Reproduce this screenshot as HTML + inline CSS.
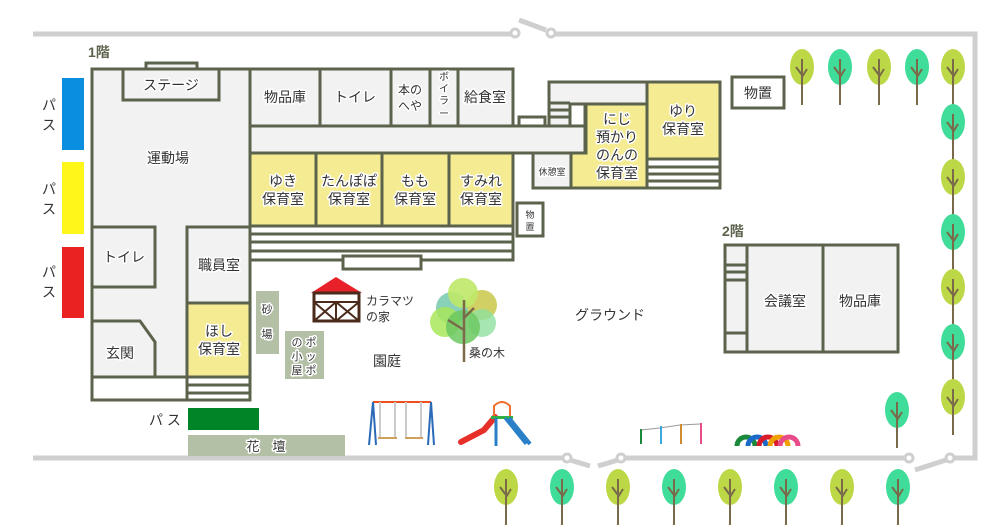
<!DOCTYPE html>
<html><head><meta charset="utf-8"><style>
html,body{margin:0;padding:0;background:#fff;width:1000px;height:530px;overflow:hidden}
svg text{font-family:"Liberation Sans","Noto Sans CJK JP",sans-serif;fill:#333;paint-order:stroke;stroke:#fff;stroke-width:3px;stroke-linejoin:round}
</style></head><body>
<svg width="1000" height="530" viewBox="0 0 1000 530" xmlns="http://www.w3.org/2000/svg">
<defs>
<g id="treeG"><ellipse cx="0" cy="0" rx="12" ry="18" fill="#bcd846"/><path d="M0,-8 V38 M0,8 L-6,0 M0,10 L5,2" stroke="#7a6a4a" stroke-width="2" fill="none"/></g>
<g id="treeT"><ellipse cx="0" cy="0" rx="12" ry="18" fill="#3fdc9a"/><path d="M0,-8 V38 M0,8 L-6,0 M0,10 L5,2" stroke="#7a6a4a" stroke-width="2" fill="none"/></g>
</defs>
<!-- fence -->
<g stroke="#cfcfcf" stroke-width="5" fill="none">
<path d="M33,34 H511"/><path d="M519,20 L546,30"/><path d="M555,34 H975 V458 H954"/>
<path d="M33,458 H563"/><path d="M570,460 L590,466"/><path d="M598,466 L618,460"/><path d="M625,458 H905"/><path d="M915,470 L946,460"/>
</g>
<g fill="#fff" stroke="#cfcfcf" stroke-width="3">
<circle cx="515" cy="33" r="4"/><circle cx="551" cy="33" r="4"/><circle cx="567" cy="458" r="4"/><circle cx="621" cy="458" r="4"/><circle cx="909" cy="458" r="4"/><circle cx="950" cy="458" r="4"/>
</g>
<!-- buses -->
<rect x="62" y="78" width="22" height="72" fill="#0a8fe0"/>
<rect x="62" y="162" width="22" height="72" fill="#fff71a"/>
<rect x="62" y="247" width="22" height="71" fill="#ea2222"/>
<g font-size="14"><text x="42" y="110">パ</text><text x="42" y="130">ス</text><text x="42" y="194">パ</text><text x="42" y="214">ス</text><text x="42" y="277">パ</text><text x="42" y="297">ス</text></g>
<text x="88" y="57" font-size="14" font-weight="bold" style="fill:#5c634c">1階</text>
<text x="722" y="236" font-size="14" font-weight="bold" style="fill:#5c634c">2階</text>
<!-- building 1 -->
<g stroke="#5c634c" stroke-width="3" fill="#f2f2f2">
<rect x="146" y="63" width="51" height="6"/>
<path d="M92,69 H513 V126 H250 V400 H92 Z"/>
<rect x="123" y="69" width="96" height="31"/>
<rect x="250" y="69" width="70" height="57"/><rect x="320" y="69" width="71" height="57"/><rect x="391" y="69" width="39" height="57"/><rect x="430" y="69" width="28" height="57"/><rect x="458" y="69" width="55" height="57"/>
<rect x="250" y="126" width="335" height="27"/>
<rect x="519" y="117" width="26" height="9" fill="#fff"/>
<g fill="#f4eb93"><rect x="250" y="153" width="66" height="73"/><rect x="316" y="153" width="66" height="73"/><rect x="382" y="153" width="67" height="73"/><rect x="449" y="153" width="64" height="73"/></g>
<rect x="250" y="226" width="263" height="34" fill="#fff"/>
<path d="M250,234 H513 M250,242 H513 M250,251 H513" fill="none"/>
<rect x="343" y="256" width="78" height="13" fill="#fff"/>
<rect x="92" y="227" width="63" height="60"/>
<rect x="187" y="227" width="63" height="76"/>
<rect x="187" y="303" width="63" height="74" fill="#f4eb93"/>
<path d="M92,321 H140 L155,342 V377 H92 Z"/>
<rect x="92" y="377" width="158" height="23" fill="#fff"/>
<path d="M187,377 V400 M187,385 H250 M187,393 H250" fill="none"/>
<!-- right building -->
<path d="M549,82 H720 V188 H533 V153 H585 V104 H570 V126 H549 Z" fill="#f2f2f2"/>
<path d="M549,103 H570 M549,110 H570 M549,117 H570" fill="none"/>
<path d="M586,104 H647 V188 H571 V153 H586 Z" fill="#f4eb93"/>
<rect x="533" y="153" width="38" height="35"/>
<rect x="647" y="82" width="73" height="77" fill="#f4eb93"/>
<rect x="647" y="159" width="73" height="29" fill="#fff"/>
<path d="M647,167 H720 M647,174 H720 M647,181 H720" fill="none"/>
<rect x="517" y="203" width="26" height="33" fill="#fff"/>
<rect x="732" y="77" width="52" height="31" fill="#fff"/>
<!-- 2F -->
<rect x="725" y="245" width="173" height="107"/>
<path d="M747,245 V352 M823,245 V352 M725,265 H747 M725,272 H747 M725,280 H747 M725,333 H747" fill="none"/>
</g>
<!-- labels -->
<g font-size="14" text-anchor="middle">
<text x="171" y="90">ステージ</text>
<text x="285" y="102">物品庫</text><text x="355" y="102">トイレ</text>
<text x="410" y="94" font-size="12">本の</text><text x="410" y="110" font-size="12">へや</text>
<text x="485" y="102">給食室</text>
<text x="168" y="163">運動場</text>
<text x="283" y="186">ゆき</text><text x="283" y="204">保育室</text>
<text x="349" y="186">たんぽぽ</text><text x="349" y="204">保育室</text>
<text x="415" y="186">もも</text><text x="415" y="204">保育室</text>
<text x="481" y="186">すみれ</text><text x="481" y="204">保育室</text>
<text x="124" y="262">トイレ</text><text x="219" y="270">職員室</text>
<text x="219" y="336">ほし</text><text x="219" y="354">保育室</text>
<text x="120" y="358">玄関</text>
<text x="683" y="116">ゆり</text><text x="683" y="134">保育室</text>
<text x="617" y="124">にじ</text><text x="617" y="142">預かり</text><text x="617" y="160">のんの</text><text x="617" y="178">保育室</text>
<text x="758" y="98">物置</text>
<text x="785" y="306">会議室</text><text x="860" y="306">物品庫</text>
<text x="610" y="320">グラウンド</text>
<text x="387" y="366">園庭</text>
</g>
<g font-size="9" text-anchor="middle"><text x="552" y="175">休憩室</text><text x="530" y="218">物</text><text x="530" y="230">置</text>
<text x="444" y="80" font-size="10">ボ</text><text x="444" y="92" font-size="10">イ</text><text x="444" y="104" font-size="10">ラ</text><text x="444" y="117" font-size="10">ー</text></g>
<!-- yards -->
<rect x="256" y="291" width="23" height="63" fill="#b3c0a5"/>
<g font-size="11" text-anchor="middle"><text x="267" y="313">砂</text><text x="267" y="338">場</text></g>
<rect x="285" y="331" width="39" height="48" fill="#b3c0a5"/>
<g font-size="11" text-anchor="middle"><text x="311" y="346">ポ</text><text x="311" y="360">ッ</text><text x="311" y="374">ポ</text><text x="297" y="346">の</text><text x="297" y="360">小</text><text x="297" y="374">屋</text></g>
<rect x="188" y="408" width="71" height="22" fill="#008428"/>
<text x="165" y="425" font-size="14" text-anchor="middle">パ ス</text>
<rect x="188" y="435" width="157" height="21" fill="#b3c0a5"/>
<text x="266" y="451" font-size="13" text-anchor="middle">花　壇</text>
<!-- karamatsu house -->
<polygon points="336,277 311,293 362,293" fill="#e8202a"/>
<rect x="314" y="293" width="45" height="28" fill="#fff" stroke="#4a2a1a" stroke-width="3"/>
<path d="M314,302 H359 M336,302 V321 M314,302 L336,321 M336,302 L314,321 M336,302 L359,321 M359,302 L336,321" stroke="#4a2a1a" stroke-width="2"/>
<text x="366" y="305" font-size="12">カラマツ</text><text x="366" y="321" font-size="12">の家</text>
<!-- mulberry -->
<circle cx="452" cy="308" r="16" fill="#6cc7a8" opacity=".8"/><circle cx="482" cy="305" r="15" fill="#c8c84a" opacity=".85"/>
<circle cx="463" cy="293" r="15" fill="#bfe868" opacity=".9"/><circle cx="445" cy="322" r="15" fill="#a8e65a" opacity=".85"/>
<circle cx="482" cy="323" r="14" fill="#8ee0a0" opacity=".8"/><circle cx="463" cy="327" r="17" fill="#6cc860" opacity=".85"/>
<path d="M464,300 V362 M464,330 L448,320 M464,318 L474,308" stroke="#7a6a4a" stroke-width="2.5" fill="none"/>
<text x="469" y="357" font-size="12">桑の木</text>
<!-- swing -->
<g stroke-width="2" fill="none">
<path d="M373,402 H431" stroke="#f05020"/>
<path d="M373,402 L369,445 M373,402 L376,445 M431,402 L428,445 M431,402 L434,445" stroke="#2a6ab8"/>
<path d="M380,402 V437 M395,402 V437 M406,402 V437 M421,402 V437" stroke="#ccc"/>
<path d="M378,438 H397 M405,438 H423" stroke="#d0a060" stroke-width="2"/>
</g>
<!-- slide -->
<path d="M461,442 L484,430 L495,417" stroke="#e8302a" stroke-width="6" fill="none" stroke-linecap="round"/>
<path d="M494,418 V406 Q502,398 510,406 V418" stroke="#f07030" stroke-width="2" fill="none"/>
<rect x="491" y="416" width="22" height="3" fill="#30b040"/>
<path d="M496,418 V446 M505,418 L526,444" stroke="#2a80c8" stroke-width="3" fill="none"/>
<path d="M509,418 L530,444" stroke="#2a80c8" stroke-width="4" fill="none"/>
<!-- bars -->
<path d="M641,430 L660,428 L680,425 L700,424" stroke="#999" stroke-width="1" fill="none"/>
<rect x="640" y="429" width="2" height="15" fill="#1a8a3a"/><rect x="660" y="426" width="2" height="18" fill="#3aa8e0"/><rect x="680" y="424" width="2" height="20" fill="#d08a30"/><rect x="700" y="423" width="2" height="21" fill="#e84a8a"/>
<!-- tires -->
<g fill="none" stroke-width="5">
<path d="M737,446 A9,9 0 0 1 755,446" stroke="#1a8a3a"/><path d="M748,446 A9,9 0 0 1 766,446" stroke="#1a6ac8"/><path d="M759,446 A9,9 0 0 1 777,446" stroke="#d81a2a"/><path d="M770,446 A9,9 0 0 1 788,446" stroke="#f0a000"/><path d="M780,446 A9,9 0 0 1 798,446" stroke="#e84a8a"/>
</g>
<!-- trees -->
<use href="#treeG" x="802" y="67"/><use href="#treeT" x="840" y="67"/><use href="#treeG" x="879" y="67"/><use href="#treeT" x="917" y="67"/><use href="#treeG" x="953" y="67"/>
<use href="#treeT" x="953" y="122"/><use href="#treeG" x="953" y="177"/><use href="#treeT" x="953" y="232"/><use href="#treeG" x="953" y="287"/><use href="#treeT" x="953" y="342"/><use href="#treeG" x="953" y="397"/>
<use href="#treeT" x="897" y="410"/>
<use href="#treeG" x="506" y="487"/><use href="#treeT" x="562" y="487"/><use href="#treeG" x="618" y="487"/><use href="#treeT" x="674" y="487"/><use href="#treeG" x="730" y="487"/><use href="#treeT" x="786" y="487"/><use href="#treeG" x="842" y="487"/><use href="#treeT" x="898" y="487"/>
</svg>
</body></html>
